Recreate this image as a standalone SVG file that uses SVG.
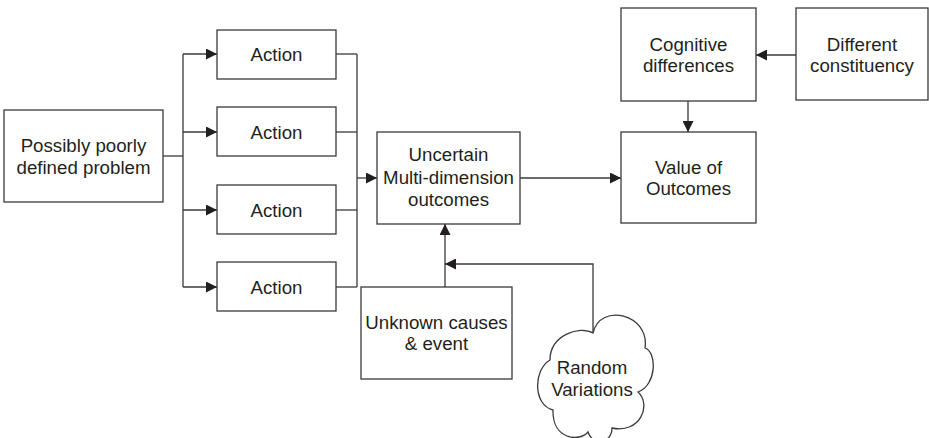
<svg xmlns="http://www.w3.org/2000/svg" width="929" height="438" viewBox="0 0 929 438">
<style>
.box{fill:#fff;stroke:#3a3a3a;stroke-width:1.3}
.ln{fill:none;stroke:#3a3a3a;stroke-width:1.3}
.t{font-family:"Liberation Sans",Arial,sans-serif;font-size:18.7px;fill:#231f20;text-anchor:middle}
</style>
<defs>
<marker id="ah" markerUnits="userSpaceOnUse" markerWidth="11" markerHeight="11" refX="10" refY="5" orient="auto" viewBox="0 0 10 10">
<path d="M0,0 L10,5 L0,10 z" fill="#231f20"/>
</marker>
</defs>
<rect width="929" height="438" fill="#fff"/>
<g id="connectors">
<line class="ln" x1="163" y1="156" x2="183" y2="156"/>
<line class="ln" x1="183" y1="54" x2="183" y2="287"/>
<line class="ln" x1="183" y1="54" x2="217" y2="54" marker-end="url(#ah)"/>
<line class="ln" x1="183" y1="132" x2="217" y2="132" marker-end="url(#ah)"/>
<line class="ln" x1="183" y1="210" x2="217" y2="210" marker-end="url(#ah)"/>
<line class="ln" x1="183" y1="287" x2="217" y2="287" marker-end="url(#ah)"/>
<line class="ln" x1="336" y1="54" x2="357" y2="54"/>
<line class="ln" x1="336" y1="132" x2="357" y2="132"/>
<line class="ln" x1="336" y1="210" x2="357" y2="210"/>
<line class="ln" x1="336" y1="287" x2="357" y2="287"/>
<line class="ln" x1="357" y1="54" x2="357" y2="287"/>
<line class="ln" x1="357" y1="178" x2="377" y2="178" marker-end="url(#ah)"/>
<line class="ln" x1="520" y1="178" x2="621" y2="178" marker-end="url(#ah)"/>
<line class="ln" x1="445" y1="287" x2="445" y2="224" marker-end="url(#ah)"/>
<polyline class="ln" points="593,333 593,264 445,264" marker-end="url(#ah)"/>
<line class="ln" x1="796" y1="55" x2="756" y2="55" marker-end="url(#ah)"/>
<line class="ln" x1="688" y1="101" x2="688" y2="132" marker-end="url(#ah)"/>
</g>
<g id="problem">
<rect class="box" x="4" y="110" width="159" height="92"/>
<text class="t" x="83.5" y="152">Possibly poorly</text>
<text class="t" x="83.5" y="173.5">defined problem</text>
</g>
<g id="action1">
<rect class="box" x="217" y="30" width="119" height="49"/>
<text class="t" x="276.5" y="61">Action</text>
</g>
<g id="action2">
<rect class="box" x="217" y="107" width="119" height="49"/>
<text class="t" x="276.5" y="138.5">Action</text>
</g>
<g id="action3">
<rect class="box" x="217" y="185" width="119" height="49"/>
<text class="t" x="276.5" y="216.5">Action</text>
</g>
<g id="action4">
<rect class="box" x="217" y="262" width="119" height="49"/>
<text class="t" x="276.5" y="293.5">Action</text>
</g>
<g id="uncertain">
<rect class="box" x="377" y="132" width="143" height="92"/>
<text class="t" x="448.5" y="161">Uncertain</text>
<text class="t" x="448.5" y="184">Multi-dimension</text>
<text class="t" x="448.5" y="206">outcomes</text>
</g>
<g id="unknown">
<rect class="box" x="361" y="287" width="151" height="92"/>
<text class="t" x="436.5" y="328.5">Unknown causes</text>
<text class="t" x="436.5" y="350">&amp; event</text>
</g>
<g id="random">
<path class="box" d="M593,333 C580,325 550,335 550,360 C533,370 533,405 553,410 C552,440 580,442 588,432 C592,446 612,444 612,428 C640,434 652,405 638,392 C657,385 657,352 645,348 C650,314 600,302 593,333 Z"/>
<text class="t" x="592" y="374">Random</text>
<text class="t" x="592" y="395.5">Variations</text>
</g>
<g id="cognitive">
<rect class="box" x="621" y="8" width="135" height="93"/>
<text class="t" x="688.5" y="50.5">Cognitive</text>
<text class="t" x="688.5" y="72">differences</text>
</g>
<g id="different">
<rect class="box" x="796" y="8" width="132" height="92"/>
<text class="t" x="862" y="50.5">Different</text>
<text class="t" x="862" y="72">constituency</text>
</g>
<g id="value">
<rect class="box" x="621" y="132" width="135" height="91"/>
<text class="t" x="688.5" y="173.5">Value of</text>
<text class="t" x="688.5" y="195">Outcomes</text>
</g>
</svg>
